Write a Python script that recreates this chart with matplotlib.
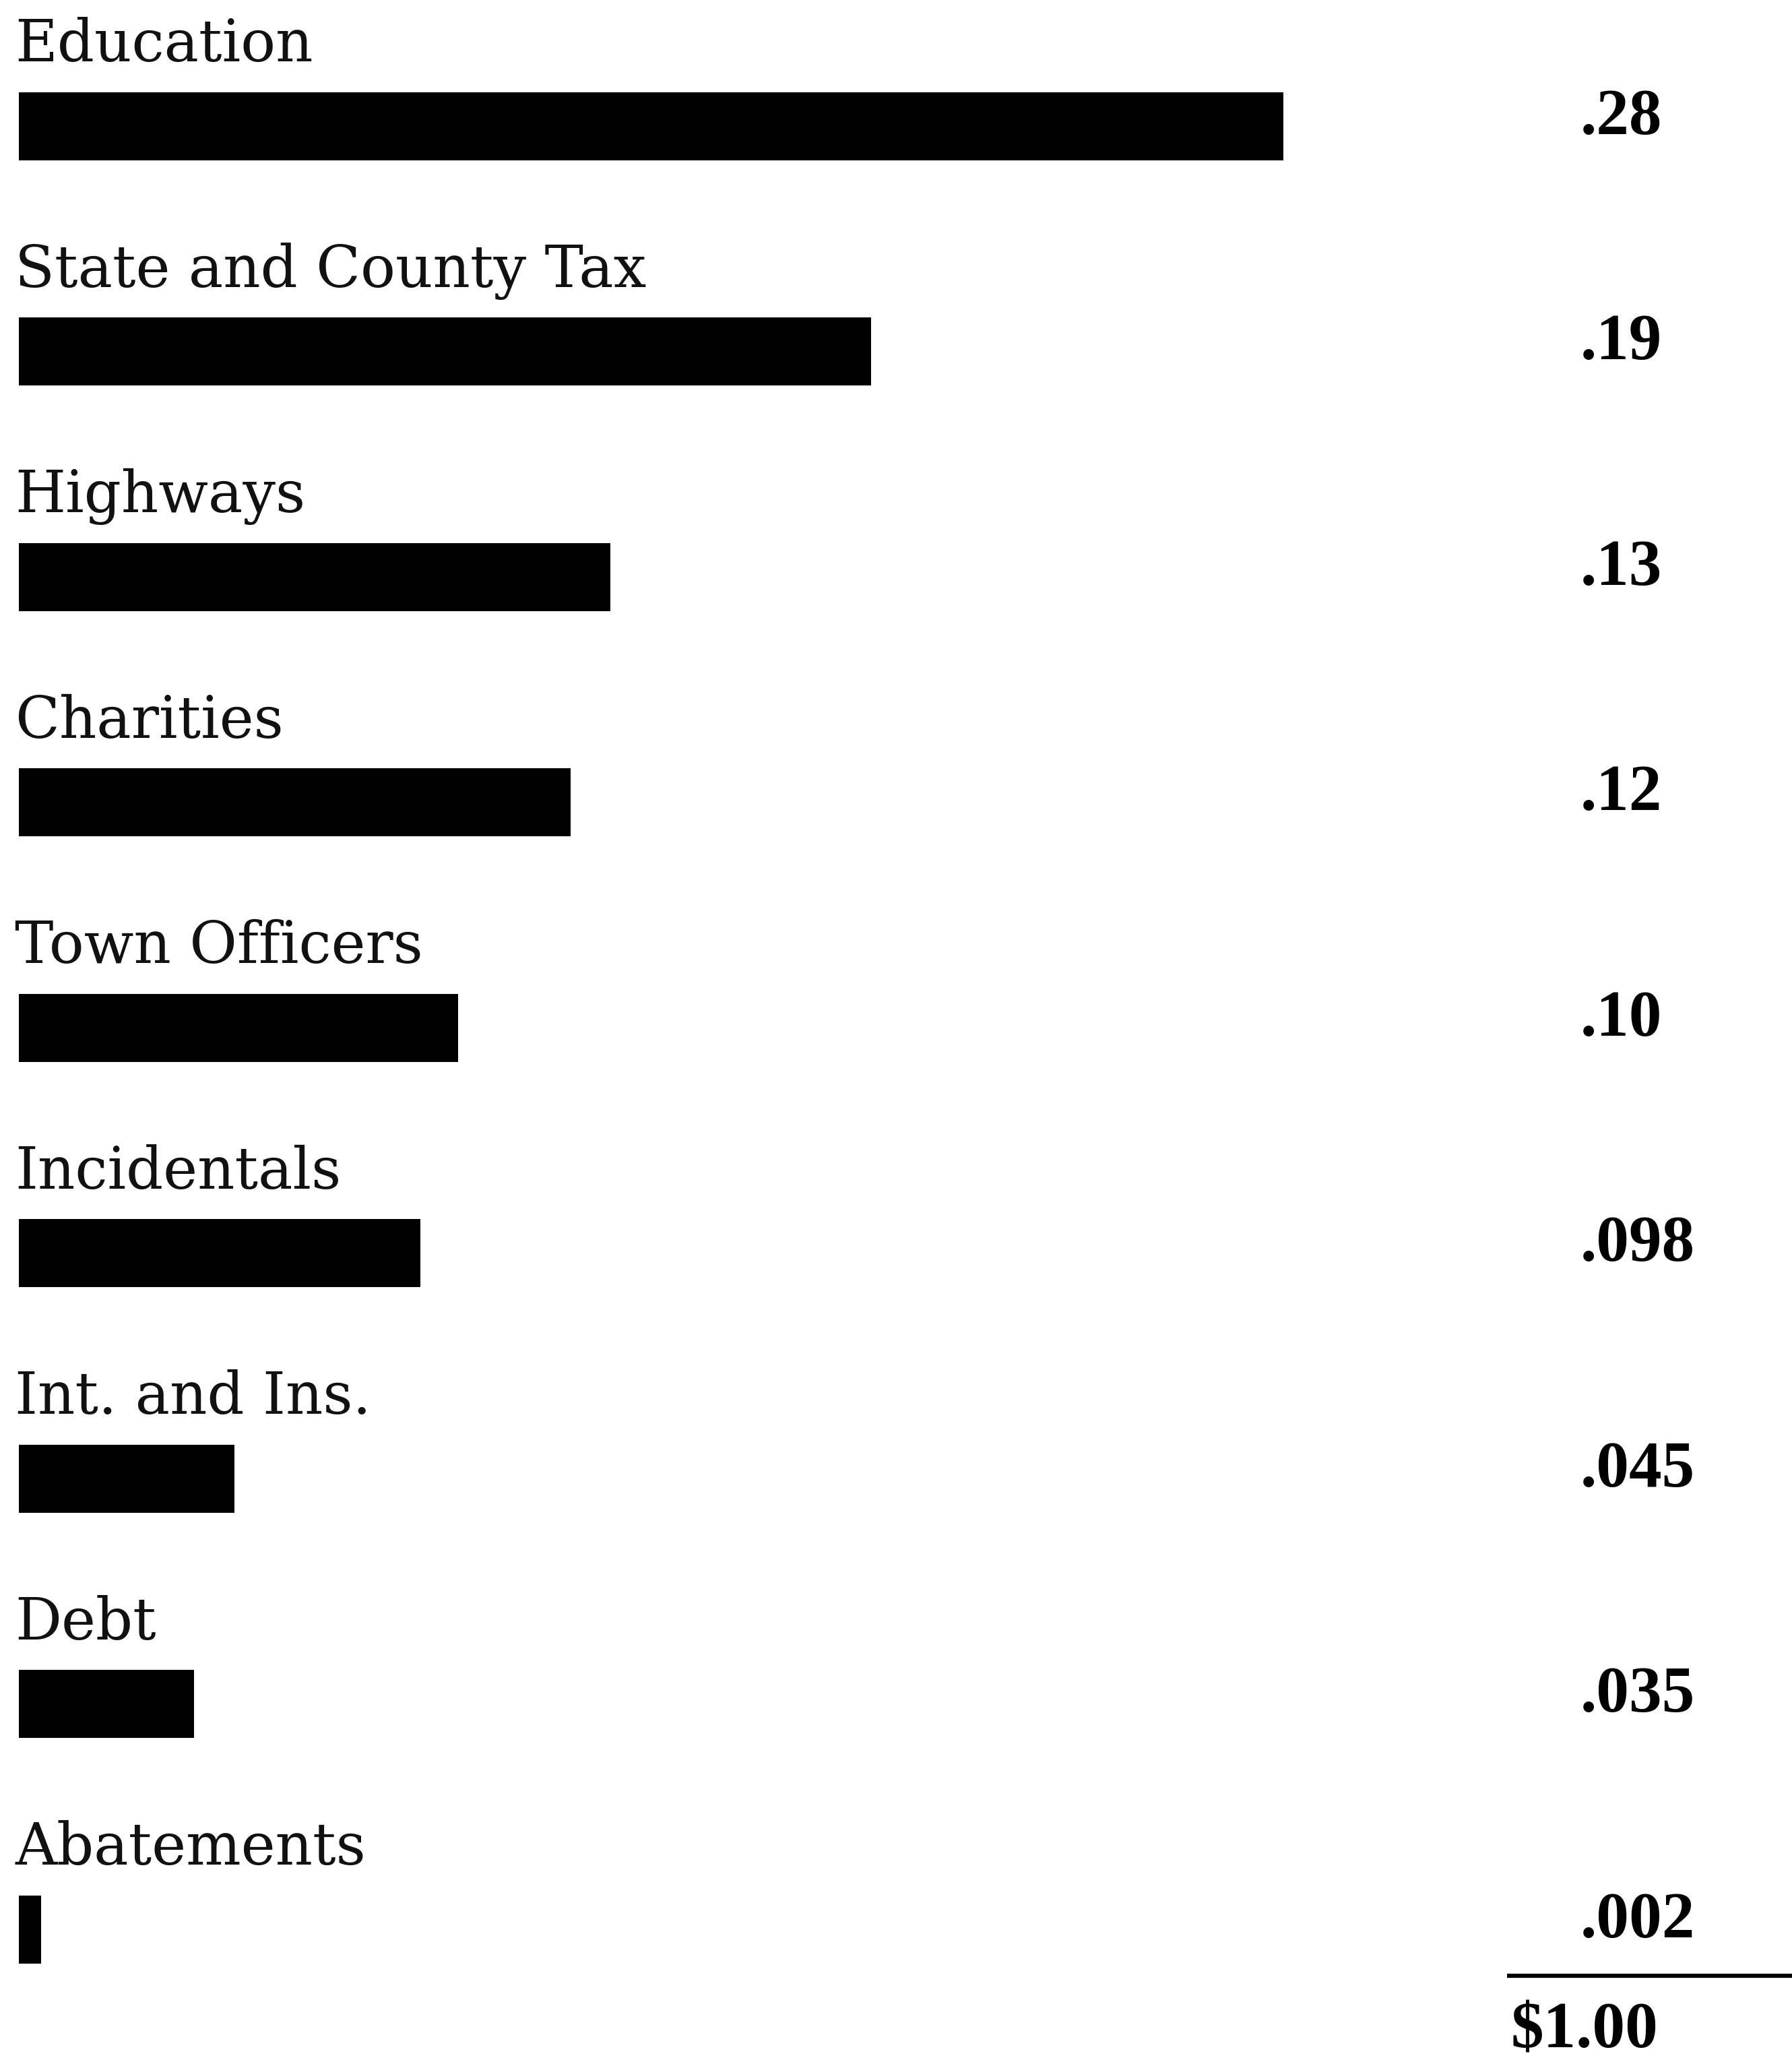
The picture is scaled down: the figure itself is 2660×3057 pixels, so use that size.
import matplotlib.pyplot as plt

# Tax dollar breakdown (values as printed on the chart)
categories = ["Education", "State and County Tax", "Highways", "Charities",
              "Town Officers", "Incidentals", "Int. and Ins.", "Debt", "Abatements"]
value_labels = [".28", ".19", ".13", ".12", ".10", ".098", ".045", ".035", ".002"]
# bar lengths as drawn in the picture (in dollars, same scale as Education = .28)
bar_lengths = [0.279, 0.188, 0.1305, 0.1217, 0.0969, 0.0886, 0.0476, 0.0386, 0.0049]
total_label = "$1.00"

W, H = 2660, 3057
fig = plt.figure(figsize=(W / 100, H / 100), dpi=100)
ax = fig.add_axes([0, 0, 1, 1])

# x: dollars, 0 at 28 px, 6728 px per dollar; y: row index, 334.5 px per row
px_per_unit = 6728.0
x0 = 28.0
row_h = 334.5
top = 187.0
ax.set_xlim(-x0 / px_per_unit, (W - x0) / px_per_unit)
ax.set_ylim((H - top) / row_h, -top / row_h)
ax.axis("off")

rows = list(range(len(categories)))
ax.barh(rows, bar_lengths, height=101 / row_h, left=0, color="black", edgecolor="none")

label_font = dict(family="DejaVu Serif", fontsize=62, color="#111111")
num_font = dict(family="Liberation Serif", fontsize=70, fontweight="bold", color="black")

for i, (name, val) in enumerate(zip(categories, value_labels)):
    ax.text(-6 / px_per_unit, i - 96 / row_h, name, ha="left", va="baseline", **label_font)
    ax.text(0.3445, i - 0.035, val, ha="left", va="center", **num_font)

# total rule and total
line_y = (2932 - top) / row_h
ax.plot([(2237 - x0) / px_per_unit, (W - x0) / px_per_unit], [line_y, line_y],
        color="black", linewidth=4.5, solid_capstyle="butt")
ax.text((2243 - x0) / px_per_unit, (3038 - top) / row_h, total_label,
        ha="left", va="baseline", **num_font)

fig.savefig("out.png", dpi=100, facecolor="white")
